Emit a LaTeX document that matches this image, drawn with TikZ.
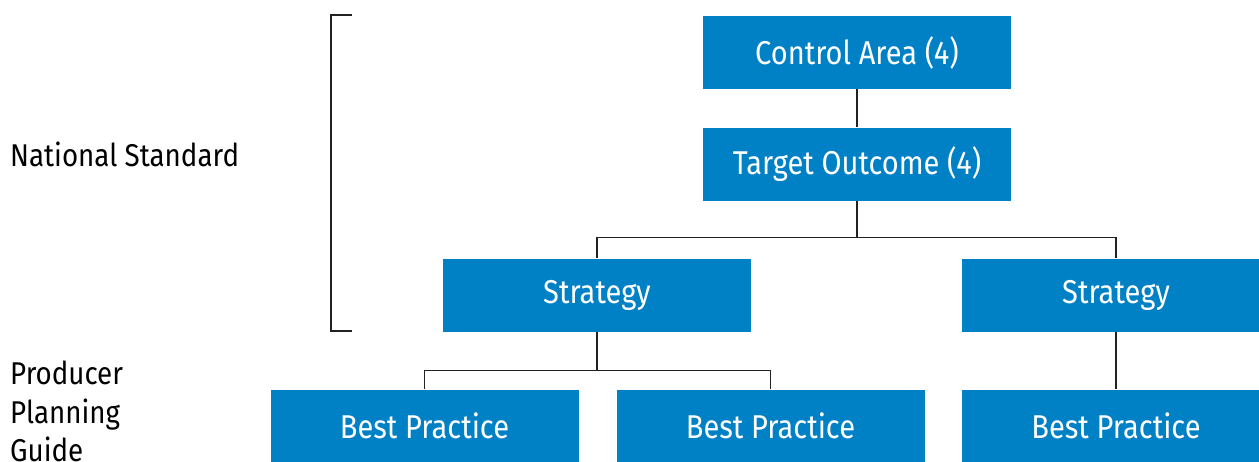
\documentclass[tikz,border=0pt]{standalone}
\usepackage{fontspec}
\setmainfont{Fira Sans}[FakeStretch=0.88]
\definecolor{boxblue}{HTML}{0081C6}
\definecolor{linegray}{HTML}{222222}
\begin{document}
\begin{tikzpicture}[x=1pt,y=-1pt,
  box/.style={fill=boxblue, text=white, minimum width=308pt, minimum height=73pt, inner sep=0pt, font=\fontsize{33}{38}\selectfont},
  conn/.style={draw=linegray, line width=1.3pt},
  lbl/.style={anchor=west, align=left, inner sep=0pt, font=\fontsize{31.5}{38.5}\selectfont}]
\useasboundingbox (0,0) rectangle (1259,461);
\begin{scope}
\clip (0,0) rectangle (1259,461);
\node[box] (ca) at (857,52.5) {Control Area (4)};
\node[box] (to) at (857,164) {Target Outcome (4)};
\node[box] (s1) at (597,295) {Strategy};
\node[box] (s2) at (1116,295) {Strategy};
\node[box] (b1) at (424.5,426) {Best Practice};
\node[box] (b2) at (770.5,426) {Best Practice};
\node[box] (b3) at (1116,426) {Best Practice};
\end{scope}
\draw[conn] (ca.south) -- (to.north);
\draw[conn] (to.south) -- ++(0,37) -| (s1.north);
\draw[conn] (to.south) -- ++(0,37) -| (s2.north);
\draw[conn] (s1.south) -- ++(0,39) -| (b1.north);
\draw[conn] (s1.south) -- ++(0,39) -| (b2.north);
\draw[conn] (s2.south) -- (b3.north);
\coordinate (bt) at (352,15);
\coordinate (bb) at (352,331);
\draw[line width=1.6pt, draw=linegray] (bt) -- (331,15) -- (331,331) -- (bb);
\node[lbl] (ns) at (10,154) {National Standard};
\node[lbl, anchor=north west] (ppg) at (10,361) {Producer\\Planning\\Guide};
\end{tikzpicture}
\end{document}
